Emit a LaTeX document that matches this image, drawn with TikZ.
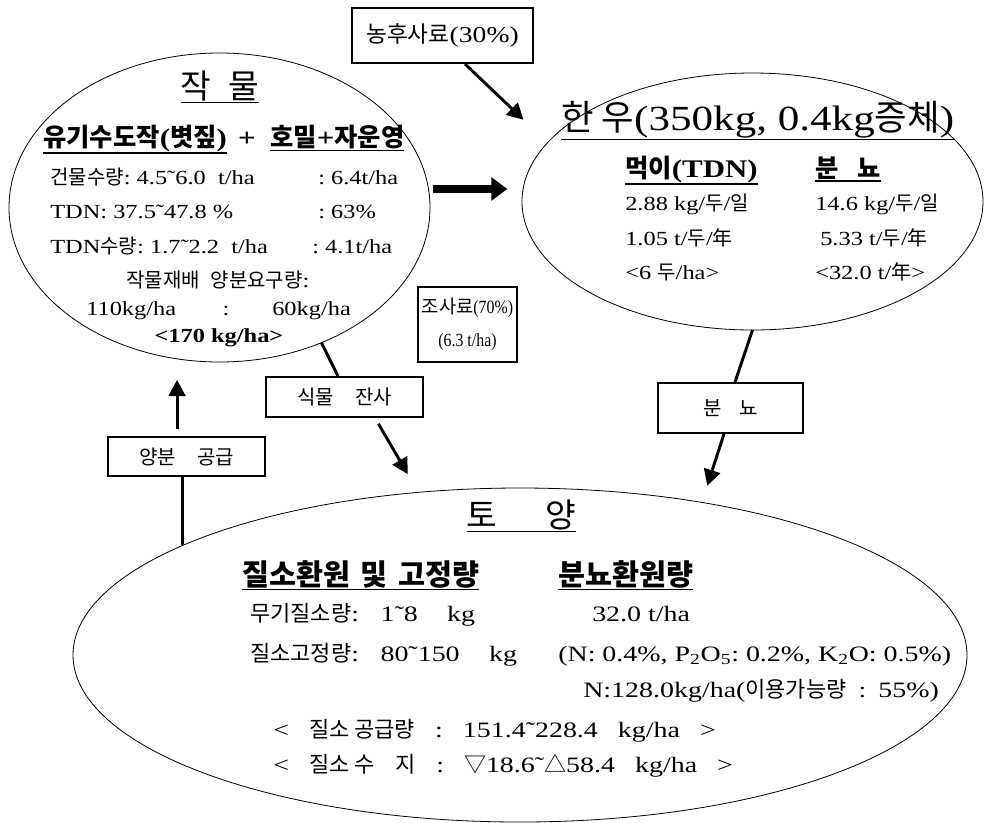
\documentclass[tikz,border=0pt]{standalone}
\usepackage{fontspec}
\setmainfont{Liberation Serif}[FakeStretch=1.22]
\newfontfamily\kr{Noto Sans CJK KR}
\newfontfamily\narrowrm{Liberation Serif}[FakeStretch=0.85]
\newfontfamily\widerm{Liberation Serif}[FakeStretch=1.27]
\usetikzlibrary{shapes.geometric,arrows.meta}

% Hangul runs are set in the CJK family
\newcommand\krsel{\kr}
\newcommand\K[1]{{\krsel #1}}
% underline drawn as a rule below the box
\newcommand\ul[1]{\vtop{\hbox{#1}\kern0.8pt\hrule height 1.1pt}}

\tikzset{
  oval/.style={draw, ellipse, line width=0.6pt, inner sep=0pt, outer sep=0pt},
  frame/.style={draw, fill=white, line width=1.5pt, inner sep=0pt, align=center},
  conn/.style={line width=2.2pt},
  arr/.style={line width=2.2pt, -{Triangle[length=12pt,width=12.5pt]}},
  bigarr/.style={line width=6pt, -{Triangle[length=12pt,width=17pt]}},
  txt/.style={inner sep=0pt, anchor=base west, font=\fontsize{15}{18}\selectfont},
  ctxt/.style={txt, anchor=base},
  head/.style={inner sep=0pt, anchor=base west, font=\bfseries\fontsize{19}{22}\selectfont},
  ttl/.style={inner sep=0pt, anchor=base, font=\fontsize{25}{30}\selectfont},
  stxt/.style={txt, font=\widerm\fontsize{16.5}{19}\selectfont},
  shead/.style={head, font=\bfseries\fontsize{22}{25}\selectfont},
}

\begin{document}
\begin{tikzpicture}[x=0.75pt,y=-0.75pt]
\useasboundingbox (0,0) rectangle (984,822);

% ---- the three compartments ----
\node[oval, minimum width=315.75pt, minimum height=231.75pt] (crop) at (219.5,207.5) {};
\node[oval, minimum width=345.75pt, minimum height=192.75pt] (hanwoo) at (752.5,201.5) {};
\node[oval, minimum width=670.5pt, minimum height=250.5pt] (soil) at (520,655) {};

% ---- crop ----
\node[ttl] (cropT) at (220,98) {\ul{\K{작\hspace{13pt}물}}};
\node[head] (cropA) at (43,146) {\ul{\K{유기수도작}(\K{볏짚})}};
\node[head, anchor=base] (cropP) at (247,146) {+};
\node[head] (cropB) at (270,146) {\ul{\K{호밀}+\K{자운영}}};
\node[txt] (c1a) at (50,184) {\K{건물수량}:\ 4.5˜6.0\ \ t/ha};
\node[txt] (c1b) at (318,184) {:\ 6.4t/ha};
\node[txt] (c2a) at (50,218) {TDN:\ 37.5˜47.8\ \%};
\node[txt] (c2b) at (318,218) {:\ 63\%};
\node[txt] (c3a) at (50,253) {TDN\K{수량}:\ 1.7˜2.2\ \ t/ha};
\node[txt] (c3b) at (312,253) {:\ 4.1t/ha};
\node[ctxt] (c4) at (218,287) {\K{작물재배\hspace{8pt}양분요구량}:};
\node[txt] (c5a) at (86,315) {110kg/ha};
\node[ctxt] (c5b) at (226,315) {:};
\node[txt] (c5c) at (272,315) {60kg/ha};
\node[ctxt, font=\bfseries\fontsize{15}{18}\selectfont] (c6) at (219,342) {<170 kg/ha>};

% ---- hanwoo ----
\node[ttl, anchor=base west, font=\fontsize{26.5}{30}\selectfont] (hwT) at (561,130) {\ul{\K{한\ 우}(350kg,\ 0.4kg\K{증체})}};
\node[head] (hwA) at (625,177) {\ul{\K{먹이}(TDN)}};
\node[head] (hwB) at (815,177) {\ul{\K{분\hspace{14pt}뇨}}};
\node[txt] (h1a) at (625,210) {2.88\ kg/\K{두}/\K{일}};
\node[txt] (h1b) at (815,210) {14.6\ kg/\K{두}/\K{일}};
\node[txt] (h2a) at (625,245) {1.05\ t/\K{두}/\K{年}};
\node[txt] (h2b) at (820,245) {5.33\ t/\K{두}/\K{年}};
\node[txt] (h3a) at (625,279) {<6\ \K{두}/ha>};
\node[txt] (h3b) at (815,279) {<32.0\ t/\K{年}>};

% ---- soil ----
\node[ttl] (soilT) at (521.5,527) {\ul{\K{토\hspace{36pt}양}}};
\node[shead] (s0a) at (242,585) {\ul{\K{질소환원\hspace{8pt}및\hspace{8pt}고정량}}};
\node[shead] (s0b) at (558,585) {\ul{\K{분뇨환원량}}};
\node[stxt] (s1a) at (250,621) {\K{무기질소량}:\hspace{16pt}1˜8\hspace{22pt}kg};
\node[stxt] (s1b) at (592,621) {32.0\ t/ha};
\node[stxt] (s2a) at (250,661) {\K{질소고정량}:\hspace{16pt}80˜150\hspace{22pt}kg};
\node[stxt] (s2b) at (558,661) {(N:\ 0.4\%,\ P\textsubscript{2}O\textsubscript{5}:\ 0.2\%,\ K\textsubscript{2}O:\ 0.5\%)};
\node[stxt] (s3) at (583,697) {N:128.0kg/ha(\K{이용가능량}\hspace{9pt}:\hspace{9pt}55\%)};
\node[stxt] (s4) at (273,737) {<\hspace{15pt}\K{질소\ 공급량}\hspace{15pt}:\hspace{15pt}151.4˜228.4\hspace{15pt}kg/ha\hspace{15pt}>};
\node[stxt] (s5) at (273,772) {<\hspace{15pt}\K{질소\ 수\hspace{16pt}지}\hspace{15pt}:\hspace{15pt}\K{▽}18.6˜\K{△}58.4\hspace{15pt}kg/ha\hspace{15pt}>};

% ---- labelled boxes ----
\node[frame, minimum width=135.75pt, minimum height=41.25pt, font=\fontsize{17}{20}\selectfont] (feed) at (442.5,35.5) {\K{농후사료}(30\%)};
\node[frame, minimum width=74.25pt, minimum height=56.25pt, font=\narrowrm\fontsize{14}{25}\selectfont] (rough) at (467.5,324.5) {\K{조사료}(70\%)\\(6.3\ t/ha)};
\node[frame, minimum width=117.75pt, minimum height=30pt, font=\fontsize{15}{18}\selectfont] (residue) at (344.5,397) {\K{식물\hspace{16pt}잔사}};
\node[frame, minimum width=117.75pt, minimum height=29.25pt, font=\fontsize{15}{18}\selectfont] (supply) at (186.5,456.5) {\K{양분\hspace{16pt}공급}};
\node[frame, minimum width=108.75pt, minimum height=37.5pt, font=\fontsize{15}{18}\selectfont] (manure) at (730.5,408) {\K{분\hspace{13pt}뇨}};

% ---- flows ----
\coordinate (bigA) at ([yshift=13.9pt]crop.east);
\draw[bigarr, shorten <=2.2pt, shorten >=11pt] (bigA) -- (bigA -| hanwoo.west);
\draw[arr, shorten >=25pt] ([xshift=16.9pt]feed.south) -- (hanwoo.164.9);
\draw[conn] (crop.-53) -- ([xshift=-4.9pt]residue.north);
\draw[arr, shorten <=5pt, shorten >=15.8pt] ([xshift=22.9pt]residue.south) -- (soil.122.7);
\coordinate (supA) at ([xshift=-7.1pt]supply.north);
\draw[arr, shorten <=5.25pt, shorten >=13.5pt] (supA) -- (supA |- crop.south);
\draw[conn] (supply.south -| soil.162) -- (soil.162);
\draw[conn] (hanwoo.south) -- ([xshift=3.4pt]manure.north);
\draw[arr, shorten >=13.2pt] ([xshift=-4.9pt]manure.south) -- (soil.40.5);
\end{tikzpicture}
\end{document}
